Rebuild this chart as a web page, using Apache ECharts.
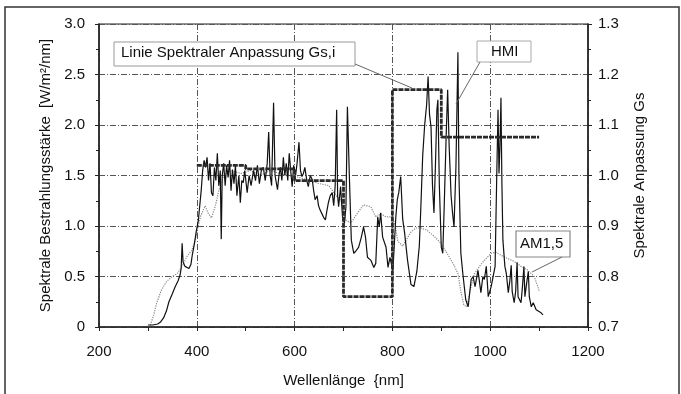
<!DOCTYPE html>
<html>
<head>
<meta charset="utf-8">
<script src="https://cdn.jsdelivr.net/npm/echarts@6/dist/echarts.min.js"></script>
<style>
  html, body { margin: 0; padding: 0; background: #fff; }
  #chart { width: 681px; height: 394px; }
</style>
</head>
<body>
<div id="chart"></div>
<script>
// HMI Spektrum (linke Achse)
var hmiNm = [300, 310, 320, 326, 332, 338, 343, 350, 356, 362, 366, 368, 370, 372, 376, 380, 384, 388, 391, 395, 399, 403, 406, 409, 412, 415, 418, 421, 424, 427, 430, 433, 436, 439, 442, 445, 448, 450, 452, 455, 458, 461, 464, 467, 470, 473, 476, 479, 482, 486, 489, 492, 495, 498, 503, 507, 511, 516, 520, 524, 528, 532, 536, 540, 544, 547, 550, 553, 557, 560, 565, 568, 571, 574, 577, 580, 583, 586, 589, 592, 595, 598, 602, 605, 609, 612, 615, 618, 621, 625, 628, 632, 636, 639, 642, 646, 649, 652, 656, 660, 663, 666, 669, 673, 677, 680, 683, 686, 688, 690, 694, 698, 702, 705, 708, 712, 716, 721, 725, 731, 736, 741, 745, 749, 756, 762, 766, 770, 773, 776, 780, 787, 791, 795, 801, 807, 810, 813, 817, 821, 825, 831, 838, 844, 850, 855, 858, 862, 866, 870, 873, 876, 879, 882, 885, 888, 891, 893, 896, 900, 903, 906, 910, 913, 916, 920, 923, 926, 930, 934, 936, 940, 944, 950, 955, 961, 965, 969, 975, 981, 985, 988, 992, 996, 1002, 1006, 1010, 1013, 1016, 1018, 1020, 1022, 1024, 1026, 1030, 1033, 1037, 1040, 1043, 1045, 1049, 1052, 1055, 1057, 1063, 1066, 1069, 1071, 1075, 1078, 1080, 1084, 1088, 1094, 1098, 1104, 1108];
var hmiVal = [0.02, 0.02, 0.03, 0.05, 0.09, 0.16, 0.25, 0.33, 0.4, 0.46, 0.52, 0.58, 0.83, 0.64, 0.6, 0.6, 0.58, 0.62, 0.72, 0.82, 0.95, 1.05, 1.2, 1.35, 1.55, 1.65, 1.58, 1.68, 1.45, 1.62, 1.33, 1.3, 1.58, 1.45, 1.72, 1.4, 1.55, 0.87, 1.5, 1.62, 1.4, 1.6, 1.48, 1.65, 1.35, 1.56, 1.42, 1.6, 1.3, 1.5, 1.23, 1.45, 1.43, 1.55, 1.33, 1.5, 1.4, 1.55, 1.45, 1.6, 1.42, 1.55, 1.58, 1.45, 1.62, 1.93, 1.5, 1.4, 2.22, 1.5, 1.36, 1.5, 1.58, 1.45, 1.68, 1.5, 1.62, 1.45, 1.72, 1.55, 1.39, 1.6, 1.5, 1.62, 1.83, 1.55, 1.49, 1.52, 1.58, 1.45, 1.39, 1.5, 1.46, 1.35, 1.26, 1.3, 1.2, 1.16, 1.12, 1.08, 1.06, 1.15, 1.23, 1.3, 1.33, 1.2, 1.4, 2.15, 1.3, 1.19, 1.39, 1.09, 1.03, 1.19, 2.18, 1.49, 0.86, 0.73, 0.75, 0.79, 0.88, 0.99, 0.89, 0.69, 0.66, 0.59, 0.63, 1.09, 0.99, 1.13, 0.89, 0.79, 0.59, 0.69, 0.56, 1.09, 1.26, 1.33, 1.49, 1.07, 0.93, 0.66, 0.42, 0.4, 0.55, 0.8, 1.16, 1.7, 2.0, 2.2, 2.48, 2.1, 1.98, 1.4, 1.13, 1.6, 2.15, 2.25, 1.4, 0.79, 0.73, 1.2, 1.9, 2.35, 1.8, 1.3, 1.13, 0.99, 1.6, 2.72, 1.52, 0.73, 0.53, 0.27, 0.2, 0.47, 0.5, 0.4, 0.56, 0.34, 0.5, 0.47, 0.6, 0.3, 0.4, 0.39, 0.6, 1.4, 2.15, 1.52, 1.8, 2.27, 1.4, 0.86, 0.6, 0.53, 0.34, 0.45, 0.61, 0.35, 0.24, 0.35, 0.64, 0.3, 0.24, 0.4, 0.6, 0.3, 0.45, 0.55, 0.3, 0.2, 0.24, 0.17, 0.16, 0.14, 0.12];

// AM1,5 Spektrum (linke Achse)
var am15Nm = [305, 312, 318, 328, 338, 350, 360, 370, 380, 390, 398, 403, 408, 417, 424, 430, 438, 445, 455, 470, 490, 510, 530, 550, 570, 590, 610, 630, 650, 670, 685, 695, 705, 715, 729, 741, 756, 766, 776, 787, 800, 806, 811, 821, 828, 838, 848, 858, 870, 885, 899, 913, 925, 934, 940, 946, 952, 960, 967, 978, 988, 1002, 1012, 1022, 1035, 1049, 1063, 1075, 1090, 1100];
var am15Val = [0.02, 0.12, 0.24, 0.37, 0.45, 0.5, 0.53, 0.6, 0.7, 0.76, 0.88, 1.0, 1.1, 1.2, 1.12, 1.08, 1.2, 1.35, 1.5, 1.55, 1.52, 1.55, 1.5, 1.55, 1.52, 1.5, 1.48, 1.45, 1.42, 1.4, 1.3, 1.25, 1.06, 1.03, 1.13, 1.21, 1.19, 1.09, 1.12, 1.09, 1.09, 1.0, 0.85, 0.8, 0.86, 0.94, 0.98, 0.98, 0.96, 0.9, 0.83, 0.72, 0.62, 0.53, 0.35, 0.22, 0.2, 0.38, 0.52, 0.6, 0.66, 0.73, 0.74, 0.71, 0.68, 0.65, 0.6, 0.57, 0.5, 0.36];

// Spektrale Anpassung Gs,i je Band (rechte Achse)
var gsNm = [400, 500, 600, 700, 800, 900, 1100];
var gsVal = [1.02, 1.013, 0.99, 0.76, 1.17, 1.076, 1.076];

var xTicks = [200, 400, 600, 800, 1000, 1200];

function zip(a, b) {
    var out = [];
    for (var i = 0; i < a.length; i++) out.push([a[i], b[i]]);
    return out;
}

var myChart = echarts.init(document.getElementById('chart'));
var font = '"Liberation Sans", Arial, sans-serif';
var gridLine = { show: true, lineStyle: { color: '#555', width: 1, type: [6, 2, 1, 2] } };

var option = {
    animation: false,
    backgroundColor: '#fff',
    textStyle: { fontFamily: font },
    grid: {
        left: 99, right: 93, top: 24, bottom: 67,
        show: true, borderColor: '#222', borderWidth: 1.2
    },
    xAxis: {
        type: 'value',
        min: xTicks[0],
        max: xTicks[xTicks.length - 1],
        interval: 200,
        name: 'Wellenlänge  {nm]',
        nameLocation: 'middle',
        nameGap: 46,
        nameTextStyle: { fontSize: 15, color: '#111', fontFamily: font },
        axisLine: { lineStyle: { color: '#222', width: 1.5 } },
        axisTick: { show: true, length: 4, lineStyle: { color: '#222' } },
        minorTick: { show: true, splitNumber: 2, length: 4, lineStyle: { color: '#222' } },
        axisLabel: {
            fontSize: 15, color: '#111', margin: 17, fontFamily: font,
            formatter: function (v) { return String(v); }
        },
        splitLine: gridLine
    },
    yAxis: [
        {
            type: 'value',
            min: 0, max: 3, interval: 0.5,
            name: 'Spektrale Bestrahlungsstärke  [W/m²/nm]',
            nameLocation: 'middle',
            nameGap: 44,
            nameTextStyle: { fontSize: 15, color: '#111', fontFamily: font },
            axisLine: { show: true, lineStyle: { color: '#222', width: 1.5 } },
            axisTick: { show: true, length: 4, lineStyle: { color: '#222' } },
            minorTick: { show: true, splitNumber: 2, length: 3, lineStyle: { color: '#222' } },
            axisLabel: {
                fontSize: 15, color: '#111', margin: 14, fontFamily: font,
                formatter: function (v) { return v === 0 ? '0' : v.toFixed(1); }
            },
            splitLine: gridLine
        },
        {
            type: 'value',
            min: 0.7, max: 1.3, interval: 0.1,
            position: 'right',
            name: 'Spektrale Anpassung Gs',
            nameLocation: 'middle',
            nameGap: 44,
            nameTextStyle: { fontSize: 15, color: '#111', fontFamily: font },
            axisLine: { show: true, lineStyle: { color: '#222', width: 1.5 } },
            axisTick: { show: true, length: 4, lineStyle: { color: '#222' } },
            minorTick: { show: true, splitNumber: 2, length: 3, lineStyle: { color: '#222' } },
            axisLabel: {
                fontSize: 15, color: '#111', margin: 10, fontFamily: font,
                formatter: function (v) { return v.toFixed(1); }
            },
            splitLine: { show: false }
        }
    ],
    series: [
        {
            name: 'AM1,5',
            type: 'line',
            yAxisIndex: 0,
            showSymbol: false,
            symbol: 'none',
            lineStyle: { color: '#888', width: 1.2, type: 'dotted' },
            data: zip(am15Nm, am15Val)
        },
        {
            name: 'HMI',
            type: 'line',
            yAxisIndex: 0,
            showSymbol: false,
            symbol: 'none',
            lineStyle: { color: '#111', width: 1.2 },
            data: zip(hmiNm, hmiVal)
        },
        {
            name: 'Linie Spektraler Anpassung Gs,i',
            type: 'line',
            yAxisIndex: 1,
            step: 'end',
            showSymbol: false,
            symbol: 'none',
            lineStyle: { color: '#2a2a2a', width: 2.8, type: [5, 1] },
            data: zip(gsNm, gsVal)
        }
    ],
    graphic: [
        // aeusserer Rahmen
        { type: 'rect', shape: { x: 5, y: 7, width: 674, height: 400 },
          style: { fill: null, stroke: '#333', lineWidth: 1.5 }, silent: true },
        // Beschriftung Gs,i
        { type: 'rect', shape: { x: 114, y: 42, width: 241, height: 24 },
          style: { fill: '#fff', stroke: '#999', lineWidth: 1 }, z: 100 },
        { type: 'text', x: 121, y: 45, z: 101,
          style: { text: 'Linie Spektraler Anpassung Gs,i', fontSize: 15, fill: '#111', fontFamily: font } },
        { type: 'line', shape: { x1: 355, y1: 64, x2: 412, y2: 88 },
          style: { stroke: '#666', lineWidth: 1 }, z: 100 },
        // Beschriftung HMI
        { type: 'rect', shape: { x: 477, y: 41, width: 54, height: 21 },
          style: { fill: '#fff', stroke: '#aaa', lineWidth: 1 }, z: 100 },
        { type: 'text', x: 491, y: 44, z: 101,
          style: { text: 'HMI', fontSize: 15, fill: '#111', fontFamily: font } },
        { type: 'line', shape: { x1: 480, y1: 62, x2: 456, y2: 104 },
          style: { stroke: '#666', lineWidth: 1 }, z: 100 },
        // Beschriftung AM1,5
        { type: 'rect', shape: { x: 516, y: 231, width: 54, height: 26 },
          style: { fill: '#fff', stroke: '#888', lineWidth: 1.2 }, z: 100 },
        { type: 'text', x: 520, y: 236, z: 101,
          style: { text: 'AM1,5', fontSize: 15, fill: '#111', fontFamily: font } },
        { type: 'line', shape: { x1: 562, y1: 257, x2: 532, y2: 272 },
          style: { stroke: '#666', lineWidth: 1 }, z: 100 }
    ]
};

myChart.setOption(option);
</script>
</body>
</html>
